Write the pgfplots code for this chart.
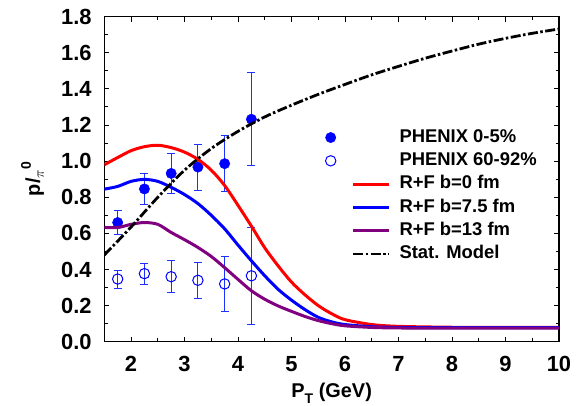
\documentclass[border=0pt]{standalone}
\usepackage{fontspec}
\setmainfont{Liberation Sans}
\usepackage{pgfplots}
\pgfplotsset{compat=1.18}
\definecolor{mypurple}{RGB}{128,0,128}
\definecolor{eblue}{RGB}{30,50,255}
\pgfplotstableread{
x y e
1.75 0.660 0.068
2.25 0.846 0.088
2.75 0.932 0.110
3.25 0.967 0.127
3.75 0.986 0.156
4.25 1.232 0.258
}\central
\pgfplotstableread{
x y e
1.75 0.347 0.050
2.25 0.377 0.058
2.75 0.360 0.087
3.25 0.340 0.100
3.75 0.320 0.150
4.25 0.365 0.268
}\peripheral
\pgfplotstableread{
x y
1.5 0.980
1.75 1.020
2.0 1.058
2.25 1.080
2.5 1.088
2.75 1.075
3.0 1.050
3.25 1.010
3.5 0.950
3.75 0.865
4.0 0.755
4.25 0.640
4.5 0.520
4.75 0.420
5.0 0.330
5.25 0.260
5.5 0.200
5.75 0.155
6.0 0.122
6.5 0.095
7.0 0.085
8.0 0.080
9.0 0.079
10.0 0.079
}\redcurve
\pgfplotstableread{
x y
1.5 0.845
1.75 0.860
2.0 0.888
2.25 0.899
2.5 0.888
2.75 0.855
3.0 0.815
3.25 0.765
3.5 0.700
3.75 0.625
4.0 0.535
4.25 0.448
4.5 0.365
4.75 0.290
5.0 0.230
5.25 0.178
5.5 0.135
5.75 0.110
6.0 0.095
6.5 0.083
7.0 0.079
8.0 0.078
9.0 0.078
10.0 0.078
}\bluecurve
\pgfplotstableread{
x y
1.5 0.633
1.75 0.632
2.0 0.650
2.25 0.660
2.5 0.650
2.75 0.605
3.0 0.565
3.25 0.522
3.5 0.472
3.75 0.410
4.0 0.345
4.25 0.282
4.5 0.235
4.75 0.198
5.0 0.168
5.25 0.140
5.5 0.117
5.75 0.100
6.0 0.088
6.5 0.079
7.0 0.076
8.0 0.075
9.0 0.075
10.0 0.075
}\purplecurve
\pgfplotstableread{
x y
1.5 0.480
2.0 0.635
2.5 0.800
3.0 0.950
3.5 1.070
4.0 1.165
4.5 1.245
5.0 1.310
5.5 1.370
6.0 1.425
6.5 1.478
7.0 1.525
7.5 1.570
8.0 1.610
8.5 1.648
9.0 1.680
9.5 1.708
10.0 1.732
}\statmodel
\begin{document}
\begin{tikzpicture}
\path[use as bounding box] (0,0) rectangle (584bp,406bp);
\begin{axis}[
  at={(104.3bp,64.3bp)}, anchor=south west,
  scale only axis, width=454.7bp, height=325bp,
  xmin=1.5, xmax=10, ymin=0, ymax=1.8,
  clip mode=individual,
  xtick={2,3,4,5,6,7,8,9,10},
  xticklabels={2,3,4,5,6,7,8,9,10},
  ytick={0,0.2,0.4,0.6,0.8,1.0,1.2,1.4,1.6,1.8},
  yticklabels={0.0,0.2,0.4,0.6,0.8,1.0,1.2,1.4,1.6,1.8},
  minor x tick num=1, minor y tick num=1,
  tick align=inside, tick pos=both,
  major tick length=5bp, minor tick length=3.5bp,
  axis line style={line width=1.3bp},
  every tick/.style={line width=1bp, black},
  tick label style={font=\fontsize{22}{24}\selectfont\bfseries},
  yticklabel style={inner sep=0pt, anchor=east, xshift=-12.5bp},
  xticklabel style={inner sep=0pt, anchor=north, yshift=-14.3bp},
  xlabel={P\raisebox{-6bp}{\fontsize{14}{14}\selectfont T} (GeV)},
  xlabel style={font=\fontsize{20}{22}\selectfont\bfseries, at={(axis description cs:0.5,0)}, anchor=base, yshift=-55.3bp, inner sep=0pt},
  legend cell align=left,
  legend style={draw=none, fill=none, inner sep=0pt, outer sep=0pt,
    at={(axis cs:1.5,1.8)}, anchor=north west, xshift=220.7bp, yshift=-112.1bp,
    row sep=5.8pt, column sep=9bp,
    nodes={inner sep=0pt, text height=13.5bp, text depth=4bp},
    font=\fontsize{18.5}{20}\selectfont\bfseries},
  mylinelegend/.style={legend image code/.code={\path[draw=none,fill=none] (-28bp,0bp) (36bp,0bp); \draw (0bp,0bp) -- (36bp,0bp);}},
  mymarklegend/.style={legend image code/.code={\path[draw=none,fill=none] (-28bp,0bp) (36bp,0bp); \draw plot coordinates {(-22.3bp,0bp)};}},
]
\addplot[only marks, mark=*, mark size=5.2bp, color=blue, mymarklegend,
  error bars/.cd, y dir=both, y explicit,
  error bar style={line width=1bp, color=eblue},
  error mark options={rotate=90, mark size=4bp, line width=1bp, color=eblue},
  ] table[x=x, y=y, y error=e] {\central};
\addlegendentry{PHENIX 0-5\%}
\addplot[only marks, mark=o, mark size=5.2bp, color=blue, mark options={line width=1bp}, mymarklegend,
  error bars/.cd, y dir=both, y explicit,
  error bar style={line width=1bp, color=eblue},
  error mark options={rotate=90, mark size=4bp, line width=1bp, color=eblue},
  ] table[x=x, y=y, y error=e] {\peripheral};
\addlegendentry{PHENIX 60-92\%}
\addplot[color=red, line width=3bp, smooth, no marks, mylinelegend] table {\redcurve};
\addlegendentry{R+F b=0 fm}
\addplot[color=blue, line width=3bp, smooth, no marks, mylinelegend] table {\bluecurve};
\addlegendentry{R+F b=7.5 fm}
\addplot[color=mypurple, line width=3bp, smooth, no marks, mylinelegend] table {\purplecurve};
\addlegendentry{R+F b=13 fm}
\addplot[color=black, line width=2.8bp, smooth, no marks, mylinelegend, dash pattern=on 10bp off 2.5bp on 2.5bp off 2.5bp] table {\statmodel};
\addlegendentry{Stat. Model}
\node[rotate=90, anchor=center, inner sep=0pt, font=\fontsize{20}{22}\selectfont\bfseries]
  at (rel axis cs:-0.158,0.5)
  {p/\raisebox{-4bp}{\fontsize{15}{15}\selectfont$\pi$}\raisebox{9bp}{\fontsize{14}{14}\selectfont 0}};
\end{axis}
\end{tikzpicture}
\end{document}
